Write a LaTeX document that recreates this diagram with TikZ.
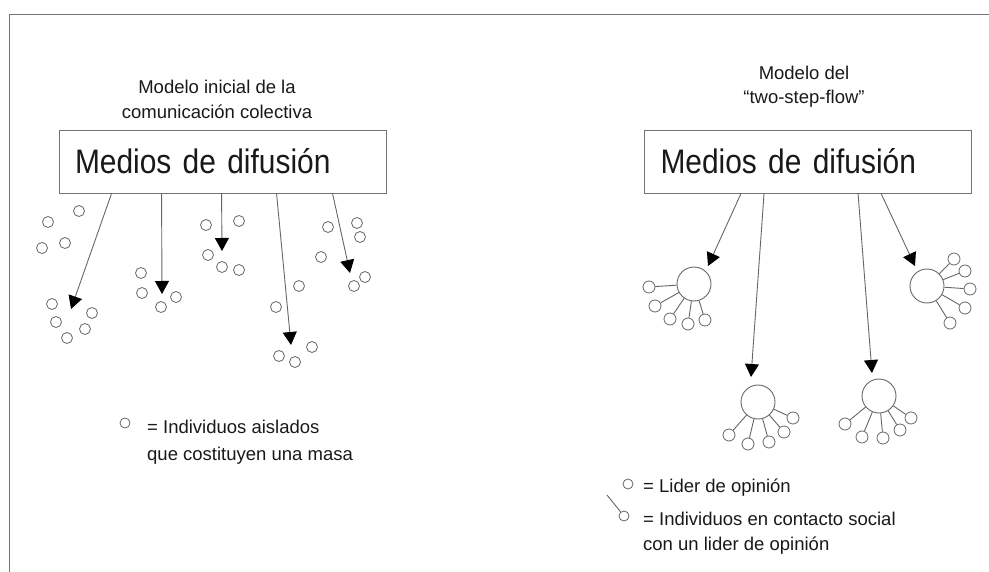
\documentclass[tikz,border=0pt]{standalone}
\usepackage{fontspec}
\setmainfont{Liberation Sans}
\newfontfamily\bigfont[FakeStretch=0.88]{Liberation Sans}
\usetikzlibrary{arrows.meta}
\definecolor{linegray}{rgb}{0.4,0.4,0.4}
\definecolor{boxgray}{rgb}{0.45,0.45,0.45}
\definecolor{inkblack}{rgb}{0.1,0.1,0.1}

\begin{document}
\begin{tikzpicture}[x=1pt,y=-1pt,
        mediabox/.style={draw=boxgray, line width=0.9pt, minimum height=63pt, text width=295pt,
            inner xsep=16pt, inner ysep=0pt, align=left, text=inkblack,
            font=\bigfont\fontsize{34}{40}\selectfont},
        notetext/.style={inner sep=0pt, text=inkblack, font=\fontsize{18.5}{25}\selectfont},
        dot/.style={circle, draw=linegray, line width=0.8pt, inner sep=0pt, minimum size=11pt},
        leader/.style={circle, draw=linegray, line width=0.9pt, inner sep=0pt, minimum size=34pt},
        follower/.style={circle, draw=linegray, line width=0.8pt, inner sep=0pt, minimum size=12pt},
        flow/.style={draw=linegray, line width=0.9pt, -{Triangle[length=13pt,width=14pt,color=black]}},
        tie/.style={draw=linegray, line width=0.9pt},
    ]
    \useasboundingbox (0,0) rectangle (989,572);
    \draw[boxgray, line width=1pt] (9.5,572) -- (9.5,15) -- (989,15);

    % left: mass communication
    \node[notetext, anchor=north, align=center] (ltitle) at (217,79.5)
        {Modelo inicial de la\\comunicación colectiva};
    \node[mediabox] (lbox) at (222.5,161.5) {Medios de difusión};

    \foreach \x/\y [count=\i] in {48/222,79/211,42/248,65/243,
            52/304,92/313,56/322,85/329,67/338,
            141/273,142/293,176/297,161/307,
            206/225,239/221,208/255,222/267,239/270,
            328/227,357/223,360/237,321/257,365/277,354/286,
            299/286,276/307,312/347,279/356,295/362}
        \node[dot] (mass\i) at (\x,\y) {};

    \coordinate (lt1) at (71,309);
    \coordinate (lt2) at (162,294);
    \coordinate (lt3) at (222,251);
    \coordinate (lt4) at (291,345);
    \coordinate (lt5) at (350,273);
    \draw[flow] ([xshift=53pt]lbox.south west) -- (lt1);
    \draw[flow] ([xshift=103pt]lbox.south west) -- (lt2);
    \draw[flow] ([xshift=163pt]lbox.south west) -- (lt3);
    \draw[flow] ([xshift=218pt]lbox.south west) -- (lt4);
    \draw[flow] ([xshift=274pt]lbox.south west) -- (lt5);

    \node[dot, minimum size=10pt] (lkey) at (125,423) {};
    \node[notetext, anchor=north west, align=left, font=\fontsize{18.5}{27}\selectfont] (lnote) at (147,419.5)
        {= Individuos aislados\\que costituyen una masa};

    % right: two-step-flow
    \node[notetext, anchor=north, align=center, font=\fontsize{18.5}{24}\selectfont] (rtitle) at (804,65.5)
        {Modelo del\\“two-step-flow”};
    \node[mediabox] (rbox) at (808,161.5) {Medios de difusión};

    \node[leader] (lead1) at (694,284) {};
    \node[leader] (lead2) at (758,402) {};
    \node[leader] (lead3) at (879,396) {};
    \node[leader] (lead4) at (927,286) {};

    \foreach \x/\y [count=\i] in {649/287,655/306,670/319,688/324,705/320}{
        \node[follower] (fa\i) at (\x,\y) {};
        \draw[tie] (lead1) -- (fa\i);
    }
    \foreach \x/\y [count=\i] in {729/435,748/444,769/442,784/432,793/418}{
        \node[follower] (fb\i) at (\x,\y) {};
        \draw[tie] (lead2) -- (fb\i);
    }
    \foreach \x/\y [count=\i] in {845/424,862/437,883/438,900/430,911/418}{
        \node[follower] (fc\i) at (\x,\y) {};
        \draw[tie] (lead3) -- (fc\i);
    }
    \foreach \x/\y [count=\i] in {954/259,965/271,970/289,965/308,950/323}{
        \node[follower] (fd\i) at (\x,\y) {};
        \draw[tie] (lead4) -- (fd\i);
    }

    \coordinate (rt1) at (708,266);
    \coordinate (rt2) at (751,377);
    \coordinate (rt3) at (872,373);
    \coordinate (rt4) at (915,266);
    \draw[flow] ([xshift=97pt]rbox.south west) -- (rt1);
    \draw[flow] ([xshift=120pt]rbox.south west) -- (rt2);
    \draw[flow] ([xshift=214pt]rbox.south west) -- (rt3);
    \draw[flow] ([xshift=237pt]rbox.south west) -- (rt4);

    \node[dot, minimum size=10pt] (rkey1) at (628,484) {};
    \node[notetext, anchor=base west] (rnote1) at (643,492) {= Lider de opinión};
    \node[dot, minimum size=10pt] (rkey2) at (624,516) {};
    \coordinate (tail) at (607,495);
    \draw[tie] (tail) -- (rkey2);
    \node[notetext, anchor=north west, align=left] (rnote2) at (643,511.5)
        {= Individuos en contacto social\\con un lider de opinión};
\end{tikzpicture}
\end{document}
